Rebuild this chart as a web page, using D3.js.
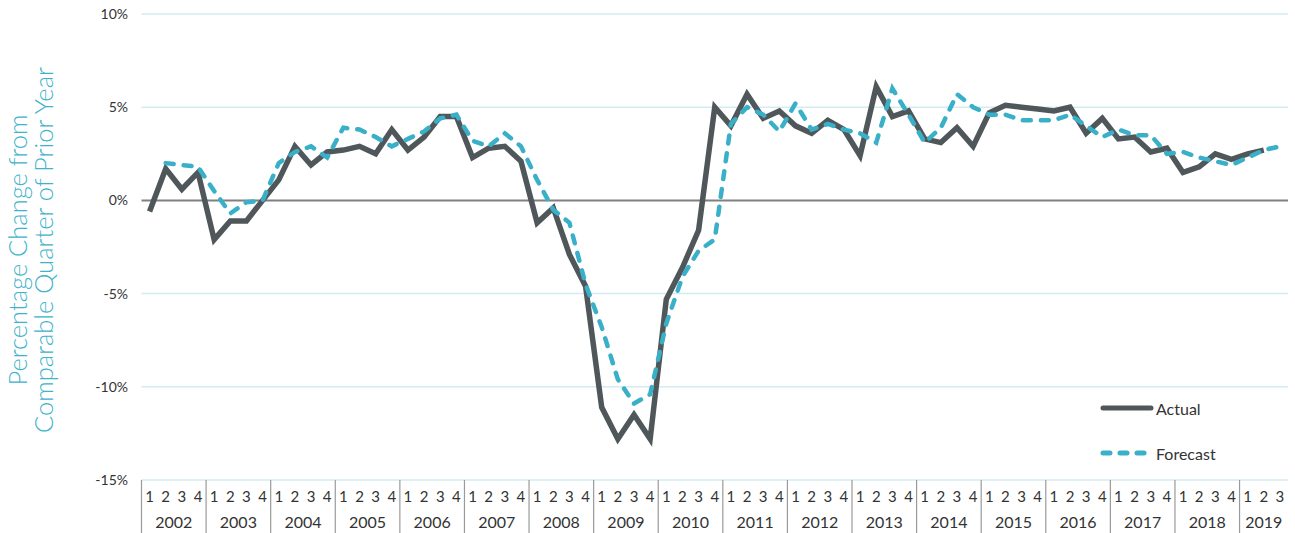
<!DOCTYPE html>
<html>
<head>
<meta charset="utf-8">
<script src="https://cdn.jsdelivr.net/npm/d3@7"></script>
<style>
  body { margin: 0; background: #fff; }
  text { font-family: Lato, "Open Sans", sans-serif; fill: #333; }
</style>
</head>
<body>
<svg class="chart" width="1295" height="533"></svg>
<script>
// years shown on the axis, 2019 only has three quarters
var years = [2002, 2003, 2004, 2005, 2006, 2007, 2008, 2009, 2010,
             2011, 2012, 2013, 2014, 2015, 2016, 2017, 2018, 2019];
var quartersInYear = [4, 4, 4, 4, 4, 4, 4, 4, 4, 4, 4, 4, 4, 4, 4, 4, 4, 3];

var yTicks = [10, 5, 0, -5, -10, -15];

// percent change from same quarter of prior year
var actual = [
  -0.6, 1.7, 0.6, 1.5,
  -2.1, -1.1, -1.1, 0.0,
  1.1, 2.9, 1.9, 2.6,
  2.7, 2.9, 2.5, 3.8,
  2.7, 3.4, 4.5, 4.5,
  2.3, 2.8, 2.9, 2.1,
  -1.2, -0.4, -2.9, -4.6,
  -11.1, -12.8, -11.5, -12.8,
  -5.3, -3.6, -1.6, 5.0,
  4.0, 5.7, 4.4, 4.8,
  4.0, 3.6, 4.3, 3.8,
  2.4, 6.1, 4.5, 4.8,
  3.3, 3.1, 3.9, 2.9,
  4.7, 5.1, 5.0, 4.9,
  4.8, 5.0, 3.6, 4.4,
  3.3, 3.4, 2.6, 2.8,
  1.5, 1.8, 2.5, 2.2,
  2.5, 2.7, null
];

var forecast = [
  null, 2.0, 1.9, 1.8,
  0.5, -0.7, -0.1, 0.0,
  2.0, 2.6, 2.9, 2.3,
  3.9, 3.8, 3.4, 2.9,
  3.3, 3.7, 4.4, 4.6,
  3.2, 2.9, 3.6, 2.9,
  1.1, -0.5, -1.2, -4.5,
  -6.8, -9.6, -10.9, -10.4,
  -6.6, -4.1, -2.7, -2.1,
  4.1, 5.0, 4.6, 3.7,
  5.2, 3.8, 4.1, 3.8,
  3.6, 3.1, 6.0, 4.6,
  3.1, 3.9, 5.7, 5.0,
  4.6, 4.6, 4.3, 4.3,
  4.3, 4.6, 4.0, 3.4,
  3.8, 3.5, 3.5, 2.5,
  2.6, 2.3, 2.1, 1.9,
  2.3, 2.7, 2.9
];

// build the quarter keys
var quarters = [];
years.forEach(function(yr, i) {
  for (var q = 1; q <= quartersInYear[i]; q++) quarters.push({key: yr + "Q" + q, year: yr, q: q});
});

var svg = d3.select(".chart");

var plotLeft = 141.5, plotRight = 1288, plotTop = 14, plotBottom = 480;

var x = d3.scaleBand()
    .domain(quarters.map(function(d) { return d.key; }))
    .range([plotLeft, plotRight])
    .padding(0);

var y = d3.scaleLinear().domain([-15, 10]).range([plotBottom, plotTop]);

// gridlines
svg.append("g")
  .selectAll("line")
  .data(yTicks.filter(function(d) { return d !== 0; }))
  .enter().append("line")
    .attr("x1", plotLeft).attr("x2", plotRight)
    .attr("y1", function(d) { return y(d); })
    .attr("y2", function(d) { return y(d); })
    .attr("stroke", "#d3ebf3")
    .attr("stroke-width", 1.5);

// y axis labels
svg.append("g")
  .selectAll("text")
  .data(yTicks)
  .enter().append("text")
    .attr("x", 128)
    .attr("y", function(d) { return y(d); })
    .attr("dy", "0.35em")
    .attr("text-anchor", "end")
    .style("font-size", "14px")
    .text(function(d) { return d + "%"; });

// zero line
svg.append("line")
    .attr("x1", plotLeft).attr("x2", plotRight)
    .attr("y1", y(0)).attr("y2", y(0))
    .attr("stroke", "#808080")
    .attr("stroke-width", 2);

// y axis title
var title = svg.append("text")
    .attr("transform", "translate(31,250) rotate(-90)")
    .attr("text-anchor", "middle")
    .style("font-size", "25.5px")
    .style("font-weight", 300);
title.append("tspan").attr("x", 0).attr("dy", "-0.15em")
    .style("fill", "#3fb3cb").text("Percentage Change from");
title.append("tspan").attr("x", 0).attr("dy", "1.0em")
    .style("fill", "#3fb3cb").text("Comparable Quarter of Prior Year");

// x axis: quarter numbers, year labels, separators
var xa = svg.append("g");
xa.selectAll(".qn")
  .data(quarters)
  .enter().append("text")
    .attr("class", "qn")
    .attr("x", function(d) { return x(d.key) + x.bandwidth() / 2; })
    .attr("y", 497)
    .attr("dy", "0.35em")
    .attr("text-anchor", "middle")
    .style("font-size", "15px")
    .text(function(d) { return d.q; });

var yearSpans = years.map(function(yr, i) {
  var first = x(yr + "Q1");
  var last = x(yr + "Q" + quartersInYear[i]) + x.bandwidth();
  return {year: yr, x0: first, x1: last};
});

xa.selectAll(".yl")
  .data(yearSpans)
  .enter().append("text")
    .attr("class", "yl")
    .attr("x", function(d) { return (d.x0 + d.x1) / 2; })
    .attr("y", 522)
    .attr("dy", "0.35em")
    .attr("text-anchor", "middle")
    .style("font-size", "16px")
    .text(function(d) { return d.year; });

xa.selectAll(".sep")
  .data(yearSpans)
  .enter().append("line")
    .attr("x1", function(d) { return d.x0; })
    .attr("x2", function(d) { return d.x0; })
    .attr("y1", plotBottom).attr("y2", 533)
    .attr("stroke", "#9a9a9a")
    .attr("stroke-width", 1.2);

// lines
var cx = function(d, i) { return x(quarters[i].key) + x.bandwidth() / 2; };
var line = d3.line()
    .defined(function(d) { return d !== null; })
    .x(cx)
    .y(function(d) { return y(d); });

svg.append("path")
    .datum(actual)
    .attr("fill", "none")
    .attr("stroke", "#50575b")
    .attr("stroke-width", 5.5)
    .attr("stroke-linejoin", "miter")
    .attr("d", line);

svg.append("path")
    .datum(forecast)
    .attr("fill", "none")
    .attr("stroke", "#3ab0c8")
    .attr("stroke-width", 4.5)
    .attr("stroke-linecap", "round")
    .attr("stroke-dasharray", "8,10")
    .attr("d", line);

// legend
var legend = svg.append("g");
legend.append("line")
    .attr("x1", 1103).attr("x2", 1151)
    .attr("y1", 408).attr("y2", 408)
    .attr("stroke", "#50575b").attr("stroke-width", 5)
    .attr("stroke-linecap", "round");
legend.append("text")
    .attr("x", 1156).attr("y", 409).attr("dy", "0.35em")
    .style("font-size", "16px").text("Actual");
legend.append("line")
    .attr("x1", 1103).attr("x2", 1150)
    .attr("y1", 453).attr("y2", 453)
    .attr("stroke", "#3ab0c8").attr("stroke-width", 5)
    .attr("stroke-linecap", "round")
    .attr("stroke-dasharray", "7,10");
legend.append("text")
    .attr("x", 1156).attr("y", 454).attr("dy", "0.35em")
    .style("font-size", "16px").text("Forecast");
</script>
</body>
</html>
